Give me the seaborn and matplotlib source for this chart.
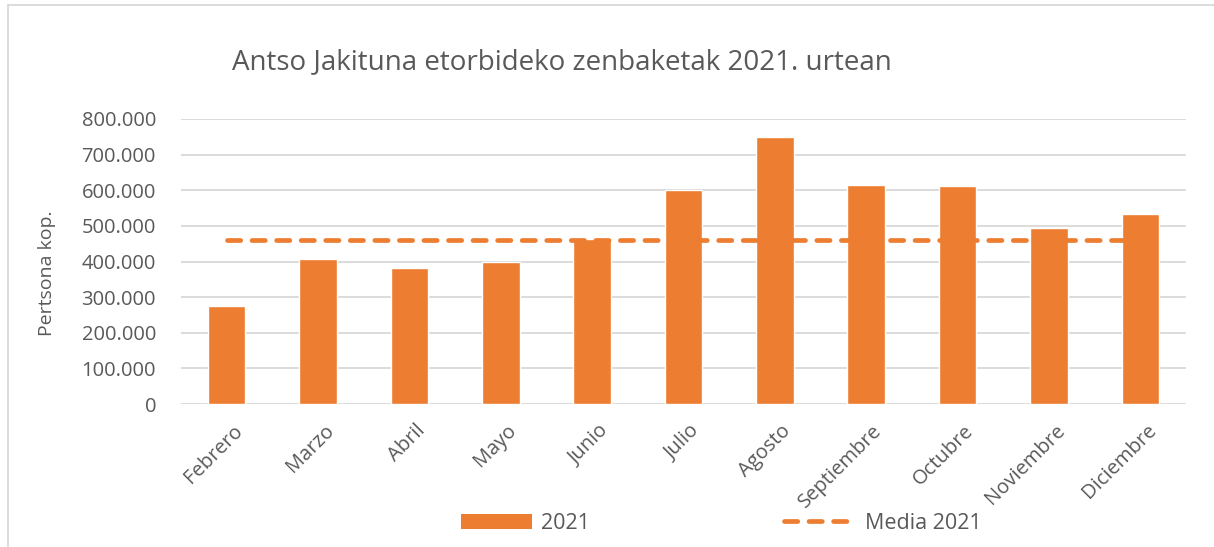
import matplotlib
matplotlib.use("Agg")
import matplotlib.pyplot as plt
import matplotlib.transforms as mtransforms
import seaborn as sns
import pandas as pd
from matplotlib.ticker import FuncFormatter
from matplotlib.lines import Line2D
from matplotlib.patches import Patch

# data
months = ["Febrero", "Marzo", "Abril", "Mayo", "Junio", "Julio", "Agosto",
          "Septiembre", "Octubre", "Noviembre", "Diciembre"]
counts_2021 = [276000, 407000, 383000, 400000, 463000, 602000, 749000,
               614000, 612000, 494000, 534000]
media_2021 = [461000] * len(months)

orange = "#ED7D31"
grey_txt = "#595959"

df = pd.DataFrame({"mes": months, "zenbaketak": counts_2021, "media": media_2021})

sns.set_theme(style="white")
plt.rcParams["font.family"] = ["Open Sans", "DejaVu Sans"]

fig = plt.figure(figsize=(12.14, 5.47), dpi=100)
ax = fig.add_axes([181 / 1214, 1 - 404 / 547, 1005 / 1214, 285 / 547])

sns.barplot(data=df, x="mes", y="zenbaketak", color=orange, width=0.41,
            saturation=1, ax=ax, zorder=2)
sns.pointplot(data=df, x="mes", y="media", color=orange, marker="",
              linestyle=(0, (2.8, 2.4)), linewidth=3.4, errorbar=None,
              dash_capstyle="round", ax=ax, zorder=3)

ax.set_ylim(0, 800000)
ax.set_yticks(range(0, 800001, 100000))
ax.yaxis.set_major_formatter(FuncFormatter(lambda v, p: f"{int(v):,}".replace(",", ".")))
ax.grid(axis="y", color="#D9D9D9", linewidth=1.3, zorder=0)
ax.set_axisbelow(True)
for s in ax.spines.values():
    s.set_visible(False)
ax.tick_params(axis="both", length=0, labelsize=14.5, colors=grey_txt)
ax.tick_params(axis="y", pad=18)
ax.tick_params(axis="x", pad=12)
# rotated month labels, nudged a little right like the original
shift = mtransforms.ScaledTranslation(6 / 100, 0, fig.dpi_scale_trans)
for lab in ax.get_xticklabels():
    lab.set_rotation(45)
    lab.set_ha("right")
    lab.set_rotation_mode("anchor")
    lab.set_transform(lab.get_transform() + shift)
ax.set_xlabel("")
ax.set_ylabel("Pertsona kop.", fontsize=14, color=grey_txt)
ax.yaxis.set_label_coords((56 - 181) / 1005, (404 - 273) / 285)

fig.text(0.4625, 0.886, "Antso Jakituna etorbideko zenbaketak 2021. urtean",
         ha="center", va="center", fontsize=20, color=grey_txt)

handles = [Patch(facecolor=orange, edgecolor="none"),
           Line2D([], [], color=orange, linewidth=3.4, linestyle=(0, (2.8, 2.4)),
                  dash_capstyle="round")]
fig.legend(handles, ["2021", "Media 2021"], loc="center", ncol=2,
           bbox_to_anchor=(0.594, 0.043), frameon=False, fontsize=15.5,
           labelcolor=grey_txt, handlelength=3.3, handletextpad=0.45,
           columnspacing=9.0)

# chart area border (left and top)
fig.add_artist(Line2D([8 / 1214, 8 / 1214], [0, 1 - 5 / 547], color="#D9D9D9", lw=1.3))
fig.add_artist(Line2D([8 / 1214, 1], [1 - 5 / 547, 1 - 5 / 547], color="#D9D9D9", lw=1.3))

fig.savefig("out.png", dpi=100, facecolor="white")
